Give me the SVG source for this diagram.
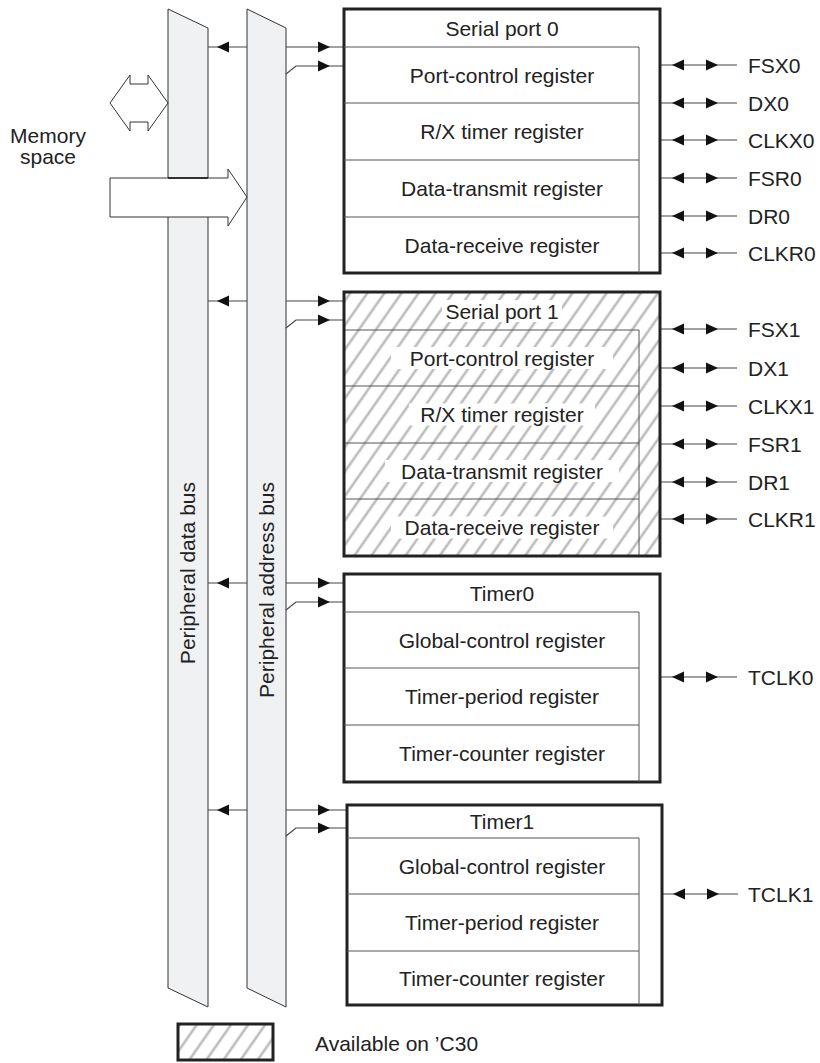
<svg xmlns="http://www.w3.org/2000/svg" xmlns:xlink="http://www.w3.org/1999/xlink" width="820" height="1063" viewBox="0 0 820 1063">
<style>
text{font-family:"Liberation Sans",Arial,Helvetica,sans-serif;font-size:21px;fill:#222}
.c{text-anchor:middle;dominant-baseline:central}
.pin{dominant-baseline:central}
.bus{fill:#f0f1f3;stroke:#333;stroke-width:1}
.box{fill:none;stroke:#222;stroke-width:3}
.inner{fill:none;stroke:#555;stroke-width:1}
.wire{fill:none;stroke:#444;stroke-width:1.2}
.head{fill:#111}
.big{fill:#fff;stroke:#333;stroke-width:1}
</style>
<defs>
<pattern id="hatch" width="14" height="14" patternUnits="userSpaceOnUse" patternTransform="rotate(35)">
<rect width="14" height="14" fill="#fff"/>
<line x1="7" y1="-1" x2="7" y2="15" stroke="#bcbcbc" stroke-width="2.6"/>
</pattern>
<polygon id="ahR" class="head" points="0,0 -12,-5.5 -12,5.5"/>
<polygon id="ahL" class="head" points="0,0 12,-5.5 12,5.5"/>
</defs>

<g id="data-bus">
<polygon class="bus" points="168,9 208,28 208,1007 168,988"/>
<text transform="translate(195,482) rotate(-90)" style="text-anchor:end">Peripheral data bus</text>
</g>
<g id="address-bus">
<polygon class="bus" points="247,9 286,28 286,1007 247,988"/>
<text transform="translate(274,482) rotate(-90)" style="text-anchor:end">Peripheral address bus</text>
</g>

<g id="connectors">
<!-- serial port 0 -->
<line class="wire" x1="208" y1="47" x2="247" y2="47"/><use xlink:href="#ahL" x="217" y="47"/>
<line class="wire" x1="286" y1="47" x2="344" y2="47"/><use xlink:href="#ahR" x="330" y="47"/>
<path class="wire" d="M286,74 L296,66 H344"/><use xlink:href="#ahR" x="330" y="66"/>
<!-- serial port 1 -->
<line class="wire" x1="208" y1="301" x2="247" y2="301"/><use xlink:href="#ahL" x="217" y="301"/>
<line class="wire" x1="286" y1="301" x2="344" y2="301"/><use xlink:href="#ahR" x="330" y="301"/>
<path class="wire" d="M286,328 L296,320 H344"/><use xlink:href="#ahR" x="330" y="320"/>
<!-- timer 0 -->
<line class="wire" x1="208" y1="583" x2="247" y2="583"/><use xlink:href="#ahL" x="217" y="583"/>
<line class="wire" x1="286" y1="583" x2="344" y2="583"/><use xlink:href="#ahR" x="330" y="583"/>
<path class="wire" d="M286,610 L296,602 H344"/><use xlink:href="#ahR" x="330" y="602"/>
<!-- timer 1 -->
<line class="wire" x1="208" y1="810" x2="247" y2="810"/><use xlink:href="#ahL" x="217" y="810"/>
<line class="wire" x1="286" y1="810" x2="347" y2="810"/><use xlink:href="#ahR" x="330" y="810"/>
<path class="wire" d="M286,836 L296,828 H347"/><use xlink:href="#ahR" x="330" y="828"/>

<!-- pins serial port 0 -->
<line class="wire" x1="660" y1="65" x2="737" y2="65"/><use xlink:href="#ahL" x="672" y="65"/><use xlink:href="#ahR" x="718" y="65"/>
<line class="wire" x1="660" y1="103" x2="737" y2="103"/><use xlink:href="#ahL" x="672" y="103"/><use xlink:href="#ahR" x="718" y="103"/>
<line class="wire" x1="660" y1="140" x2="737" y2="140"/><use xlink:href="#ahL" x="672" y="140"/><use xlink:href="#ahR" x="718" y="140"/>
<line class="wire" x1="660" y1="178" x2="737" y2="178"/><use xlink:href="#ahL" x="672" y="178"/><use xlink:href="#ahR" x="718" y="178"/>
<line class="wire" x1="660" y1="216" x2="737" y2="216"/><use xlink:href="#ahL" x="672" y="216"/><use xlink:href="#ahR" x="718" y="216"/>
<line class="wire" x1="660" y1="253" x2="737" y2="253"/><use xlink:href="#ahL" x="672" y="253"/><use xlink:href="#ahR" x="718" y="253"/>
<!-- pins serial port 1 -->
<line class="wire" x1="660" y1="329" x2="737" y2="329"/><use xlink:href="#ahL" x="672" y="329"/><use xlink:href="#ahR" x="718" y="329"/>
<line class="wire" x1="660" y1="368" x2="737" y2="368"/><use xlink:href="#ahL" x="672" y="368"/><use xlink:href="#ahR" x="718" y="368"/>
<line class="wire" x1="660" y1="406" x2="737" y2="406"/><use xlink:href="#ahL" x="672" y="406"/><use xlink:href="#ahR" x="718" y="406"/>
<line class="wire" x1="660" y1="444" x2="737" y2="444"/><use xlink:href="#ahL" x="672" y="444"/><use xlink:href="#ahR" x="718" y="444"/>
<line class="wire" x1="660" y1="482" x2="737" y2="482"/><use xlink:href="#ahL" x="672" y="482"/><use xlink:href="#ahR" x="718" y="482"/>
<line class="wire" x1="660" y1="519" x2="737" y2="519"/><use xlink:href="#ahL" x="672" y="519"/><use xlink:href="#ahR" x="718" y="519"/>
<!-- pins timers -->
<line class="wire" x1="660" y1="677" x2="737" y2="677"/><use xlink:href="#ahL" x="672" y="677"/><use xlink:href="#ahR" x="718" y="677"/>
<line class="wire" x1="662" y1="894" x2="738" y2="894"/><use xlink:href="#ahL" x="673" y="894"/><use xlink:href="#ahR" x="719" y="894"/>
</g>

<g id="memory-space">
<polygon class="big" points="110,103 130,75 130,84 148,84 148,75 168,103 148,131 148,122 130,122 130,131"/>
<polygon class="big" points="110,178 228,178 228,169 247,197 228,226 228,217 110,217"/>
<line x1="168" y1="178" x2="208" y2="178" stroke="#111" stroke-width="1.5"/>
<text x="48" y="143" style="text-anchor:middle">Memory</text>
<text x="48" y="164" style="text-anchor:middle">space</text>
</g>

<g id="serial-port-0">
<rect class="box" x="344" y="9" width="316" height="264"/>
<path class="inner" d="M344,47 H639 V273 M344,103 H639 M344,160 H639 M344,217 H639"/>
<text class="c" x="502" y="28">Serial port 0</text>
<text class="c" x="502" y="75">Port-control register</text>
<text class="c" x="502" y="131.5">R/X timer register</text>
<text class="c" x="502" y="188.5">Data-transmit register</text>
<text class="c" x="502" y="245">Data-receive register</text>
</g>
<g id="pins-0">
<text class="pin" x="748" y="65">FSX0</text>
<text class="pin" x="748" y="103">DX0</text>
<text class="pin" x="748" y="140">CLKX0</text>
<text class="pin" x="748" y="178">FSR0</text>
<text class="pin" x="748" y="216">DR0</text>
<text class="pin" x="748" y="253">CLKR0</text>
</g>

<g id="serial-port-1">
<rect x="344" y="292" width="316" height="264" fill="url(#hatch)"/>
<path class="inner" d="M344,330 H639 V556 M344,386 H639 M344,443 H639 M344,499 H639"/>
<g fill="#fff">
<rect x="442" y="300" width="120" height="22"/>
<rect x="391" y="347" width="222" height="22"/>
<rect x="409" y="403.5" width="186" height="22"/>
<rect x="385" y="460" width="234" height="22"/>
<rect x="391" y="516.5" width="222" height="22"/>
</g>
<rect class="box" x="344" y="292" width="316" height="264"/>
<text class="c" x="502" y="311">Serial port 1</text>
<text class="c" x="502" y="358">Port-control register</text>
<text class="c" x="502" y="414.5">R/X timer register</text>
<text class="c" x="502" y="471">Data-transmit register</text>
<text class="c" x="502" y="527.5">Data-receive register</text>
</g>
<g id="pins-1">
<text class="pin" x="748" y="329">FSX1</text>
<text class="pin" x="748" y="368">DX1</text>
<text class="pin" x="748" y="406">CLKX1</text>
<text class="pin" x="748" y="444">FSR1</text>
<text class="pin" x="748" y="482">DR1</text>
<text class="pin" x="748" y="519">CLKR1</text>
</g>

<g id="timer0">
<rect class="box" x="344" y="574" width="316" height="208"/>
<path class="inner" d="M344,612 H639 V782 M344,668 H639 M344,725 H639"/>
<text class="c" x="502" y="593">Timer0</text>
<text class="c" x="502" y="640">Global-control register</text>
<text class="c" x="502" y="696.5">Timer-period register</text>
<text class="c" x="502" y="753.5">Timer-counter register</text>
<text class="pin" x="748" y="677">TCLK0</text>
</g>

<g id="timer1">
<rect class="box" x="347" y="805" width="315" height="200"/>
<path class="inner" d="M347,838 H639 V1005 M347,894 H639 M347,951 H639"/>
<text class="c" x="502" y="821.5">Timer1</text>
<text class="c" x="502" y="866">Global-control register</text>
<text class="c" x="502" y="922.5">Timer-period register</text>
<text class="c" x="502" y="978">Timer-counter register</text>
<text class="pin" x="748" y="894">TCLK1</text>
</g>

<g id="legend">
<rect x="178" y="1024" width="95" height="36" fill="url(#hatch)" stroke="#222" stroke-width="3"/>
<text class="pin" x="315" y="1043">Available on ’C30</text>
</g>
</svg>
